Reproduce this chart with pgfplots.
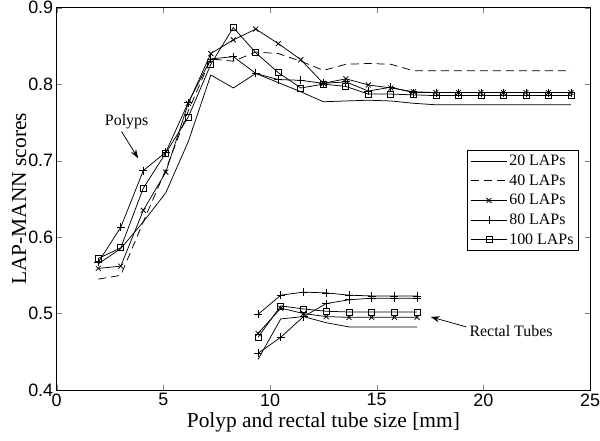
\documentclass[border=0pt]{standalone}
\usepackage{fontspec}
\setmainfont{Liberation Serif}
\setsansfont{Liberation Sans}
\usepackage{pgfplots}
\pgfplotsset{compat=1.18}
\usepackage{pgfplotstable}
\usetikzlibrary{arrows.meta}

% polyp curves, one column per number of LAPs
\pgfplotstableread{
x      s20    s40    s60    s80    s100
1.950  0.565  0.545  0.559  0.567  0.572
3.005  0.585  0.550  0.562  0.613  0.586
4.060  0.620  0.620  0.635  0.687  0.664
5.115  0.658  0.688  0.685  0.711  0.710
6.170  0.725  0.765  0.775  0.776  0.757
7.225  0.812  0.833  0.840  0.833  0.826
8.280  0.795  0.830  0.858  0.836  0.874
9.335  0.814  0.842  0.872  0.814  0.841
10.390 0.802  0.840  0.853  0.806  0.815
11.445 0.790  0.830  0.832  0.805  0.795
12.500 0.777  0.818  0.801  0.801  0.800
13.555 0.778  0.826  0.807  0.803  0.797
14.610 0.779  0.827  0.799  0.791  0.787
15.665 0.778  0.826  0.795  0.796  0.787
16.720 0.775  0.8175 0.790  0.789  0.786
17.775 0.773  0.8175 0.789  0.789  0.785
18.830 0.773  0.8175 0.789  0.789  0.785
19.885 0.773  0.8175 0.789  0.789  0.785
20.940 0.773  0.8175 0.789  0.789  0.785
21.995 0.773  0.8175 0.789  0.789  0.785
23.050 0.773  0.8175 0.789  0.789  0.785
24.105 0.773  0.8175 0.789  0.789  0.785
}\polyps

% rectal tube curves
\pgfplotstableread{
x      r20    rb     r60    r80    r100
9.440  0.440  0.448  0.474  0.499  0.469
10.505 0.493  0.469  0.507  0.524  0.510
11.570 0.496  0.496  0.500  0.528  0.506
12.635 0.488  0.513  0.496  0.527  0.503
13.700 0.4825 0.518  0.495  0.524  0.502
14.765 0.4825 0.520  0.495  0.523  0.502
15.830 0.4825 0.520  0.495  0.523  0.502
16.895 0.4825 0.520  0.495  0.523  0.502
}\tubes

\begin{document}
\begin{tikzpicture}
\begin{axis}[
  width=533.3bp, height=382.3bp, scale only axis,
  xmin=0, xmax=25, ymin=0.4, ymax=0.9,
  xtick={0,5,10,15,20,25}, ytick={0.4,0.5,0.6,0.7,0.8,0.9},
  yticklabel style={/pgf/number format/.cd, fixed, fixed zerofill, precision=1},
  /pgf/number format/assume math mode=true,
  tick align=inside, major tick length=5bp,
  tick label style={font=\fontsize{18}{18}\selectfont\sffamily},
  label style={font=\fontsize{21.5}{21.5}\selectfont},
  xlabel={Polyp and rectal tube size [mm]},
  ylabel={LAP-MANN scores}, ylabel shift=-5bp,
  axis line style={line width=0.6bp},
  every axis plot/.append style={black, line width=0.75bp},
  legend style={at={(rel axis cs:0.979,0.628)}, anchor=north east,
    draw=black, line width=0.6bp, font=\fontsize{16}{16}\selectfont,
    row sep=3.5bp, inner sep=3bp, cells={anchor=west}},
  legend image code/.code={
    \draw[mark repeat=2, mark phase=2] plot coordinates {(0bp,0bp) (18bp,0bp) (36bp,0bp)};},
  clip=false,
]
\coordinate (SW) at (rel axis cs:0,0);
\coordinate (NE) at (rel axis cs:1,1);

\addplot[no marks] table[x=x, y=s20] {\polyps};
\addlegendentry{20 LAPs}
\addplot[no marks, dash pattern=on 8bp off 5bp] table[x=x, y=s40] {\polyps};
\addlegendentry{40 LAPs}
\addplot[mark=x, mark size=3.5bp] table[x=x, y=s60] {\polyps};
\addlegendentry{60 LAPs}
\addplot[mark=+, mark size=4bp] table[x=x, y=s80] {\polyps};
\addlegendentry{80 LAPs}
\addplot[mark=square, mark size=3bp] table[x=x, y=s100] {\polyps};
\addlegendentry{100 LAPs}

\addplot[no marks, forget plot] table[x=x, y=r20] {\tubes};
\addplot[mark=+, mark size=4bp, forget plot] table[x=x, y=rb] {\tubes};
\addplot[mark=x, mark size=3.5bp, forget plot] table[x=x, y=r60] {\tubes};
\addplot[mark=+, mark size=4bp, forget plot] table[x=x, y=r80] {\tubes};
\addplot[mark=square, mark size=3bp, forget plot] table[x=x, y=r100] {\tubes};

\node[font=\fontsize{16}{16}\selectfont] at (axis cs:3.28,0.751) {Polyps};
\draw[line width=0.75bp, -{Stealth[length=9bp, width=6bp]}]
  (axis cs:3.04,0.738) -- (axis cs:3.82,0.703);
\node[font=\fontsize{16}{16}\selectfont] at (axis cs:21.3,0.477) {Rectal Tubes};
\draw[line width=0.75bp, -{Stealth[length=9bp, width=6bp]}]
  (axis cs:19.2,0.4825) -- (axis cs:17.53,0.4956);
\end{axis}
\pgfresetboundingbox
\path[use as bounding box] ([xshift=-56.7bp, yshift=-51bp]SW) rectangle ([xshift=10bp, yshift=7.7bp]NE);
\end{tikzpicture}
\end{document}
